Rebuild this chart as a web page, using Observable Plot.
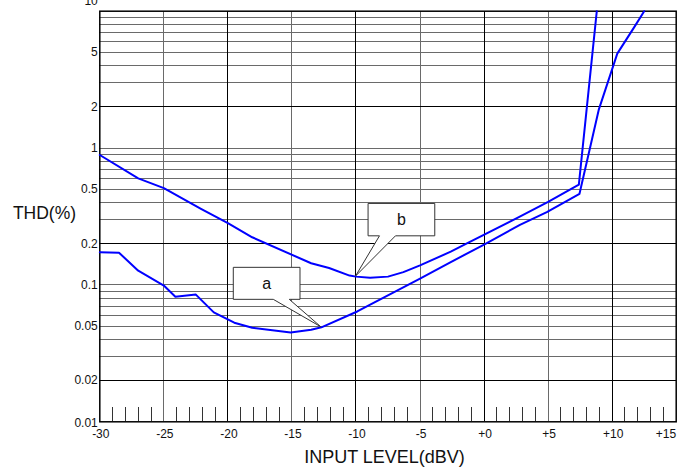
<!DOCTYPE html>
<html>
<head>
<meta charset="utf-8">
<script src="https://cdn.jsdelivr.net/npm/d3@7"></script>
<script src="https://cdn.jsdelivr.net/npm/@observablehq/plot@0.6"></script>
<style>
  html, body { margin: 0; padding: 0; background: #fff; }
  svg { font-family: "Liberation Sans", Arial, sans-serif; }
</style>
</head>
<body>
<div id="chart"></div>
<script>
// Curve b (upper)
const bLevel = [-30, -27, -25, -22.1, -20, -18.1, -13.5, -12.1, -10.5, -10, -8.9, -7.5, -6.3, -5, -2.6, -1.3, 2.6, 5, 7.4, 8.8];
const bTHD   = [0.89, 0.60, 0.51, 0.36, 0.283, 0.223, 0.144, 0.133, 0.117, 0.115, 0.113, 0.115, 0.124, 0.139, 0.175, 0.202, 0.309, 0.405, 0.54, 10];
// Curve a (lower)
const aLevel = [-30, -28.5, -27, -25, -24.1, -22.5, -21.1, -19.5, -18.1, -15.1, -13.5, -12.7, -9.9, -5, -2.6, 0, 2.8, 4.9, 7.45, 8.95, 10.4, 11.8, 12.5];
const aTHD   = [0.173, 0.172, 0.127, 0.099, 0.082, 0.085, 0.063, 0.053, 0.0486, 0.045, 0.047, 0.049, 0.064, 0.111, 0.147, 0.197, 0.275, 0.34, 0.463, 1.9, 4.9, 7.85, 10];

// Tick labels
const xTickValues = [-30, -25, -20, -15, -10, -5, 0, 5, 10];
const xTickLabels = ["-30", "-25", "-20", "-15", "-10", "-5", "+0", "+5", "+10"];
const xLastTick = [15];
const xLastLabel = ["+15"];
const yTickValues = [5, 2, 1, 0.5, 0.2, 0.1, 0.05, 0.02];
const yTickLabels = ["5", "2", "1", "0.5", "0.2", "0.1", "0.05", "0.02"];
const yTopTick = [10], yTopLabel = ["10"];
const yBottomTick = [0.01], yBottomLabel = ["0.01"];

// Grid
const hGridGray = [0.03, 0.04, 0.05, 0.06, 0.07, 0.08, 0.09, 0.1, 0.3, 0.4, 0.5, 0.6, 0.7, 0.8, 0.9, 1, 3, 4, 5, 6, 7, 8, 9];
const hGridBlack = [0.02, 0.2, 2];
const vGridGray = [-25, -15, -5, 5];
const vGridBlack = [-20, -10, 0, 10];
const minorTicks = [-29,-28,-27,-26,-24,-23,-22,-21,-19,-18,-17,-16,-14,-13,-12,-11,-9,-8,-7,-6,-4,-3,-2,-1,1,2,3,4,6,7,8,9,11,12,13,14];

// Callouts
const calloutLabels = ["a", "b"];
const calloutLevel = [-12.7, -10];
const calloutTHD = [0.049, 0.115];

const curveA = aLevel.map((x, i) => ({x, y: aTHD[i]}));
const curveB = bLevel.map((x, i) => ({x, y: bTHD[i]}));

const W = 686, H = 470;
const mL = 99.3, mR = 10.3, mT = 10.7, mB = 48.7;
const frameH = H - mT - mB;

// box geometry relative to the tip (pixels)
const boxGeom = {
  a: {x0: -87.6, x1: -20.9, y0: -59.5, y1: -27.5, t0: -47.6, t1: -31.6},
  b: {x0: 12.6, x1: 79.3, y0: -72.7, y1: -40.3, t0: 24, t1: 40}
};

function callouts(index, scales) {
  const g = d3.create("svg:g");
  calloutLabels.forEach((lab, i) => {
    const px = scales.x(calloutLevel[i]);
    const py = scales.y(calloutTHD[i]);
    const b = boxGeom[lab];
    const pts = [
      [px + b.x0, py + b.y0], [px + b.x1, py + b.y0], [px + b.x1, py + b.y1],
      [px + b.t1, py + b.y1], [px, py], [px + b.t0, py + b.y1], [px + b.x0, py + b.y1]
    ];
    g.append("path")
      .attr("d", "M" + pts.map(p => p.join(",")).join("L") + "Z")
      .attr("fill", "white")
      .attr("stroke", "#333")
      .attr("stroke-width", 1);
    g.append("text")
      .attr("x", px + (b.x0 + b.x1) / 2)
      .attr("y", py + (b.y0 + b.y1) / 2)
      .attr("dy", "0.35em")
      .attr("text-anchor", "middle")
      .attr("font-size", 16)
      .attr("fill", "#111")
      .text(lab);
  });
  return g.node();
}

const crisp = {shapeRendering: "crispEdges"};

const chart = Plot.plot({
  width: W,
  height: H,
  marginLeft: mL,
  marginRight: mR,
  marginTop: mT,
  marginBottom: mB,
  style: {fontFamily: "'Liberation Sans', Arial, sans-serif", background: "white", overflow: "visible"},
  x: {type: "linear", domain: [-30, 15], axis: null},
  y: {type: "log", domain: [0.01, 10], axis: null},
  marks: [
    Plot.ruleY(hGridGray, {y: d => d, stroke: "#6a6a6a", strokeWidth: 1, ...crisp}),
    Plot.ruleX(vGridGray, {x: d => d, stroke: "#6a6a6a", strokeWidth: 1, ...crisp}),
    Plot.ruleY(hGridBlack, {y: d => d, stroke: "#000", strokeWidth: 1, ...crisp}),
    Plot.ruleX(vGridBlack, {x: d => d, stroke: "#000", strokeWidth: 1, ...crisp}),
    Plot.tickX(minorTicks, {x: d => d, insetTop: frameH - 14.6, stroke: "#333", strokeWidth: 1, ...crisp}),
    Plot.frame({stroke: "#000", strokeWidth: 1.5}),
    Plot.line(curveB, {x: "x", y: "y", stroke: "#0000ff", strokeWidth: 2}),
    Plot.line(curveA, {x: "x", y: "y", stroke: "#0000ff", strokeWidth: 2}),
    callouts,
    // y tick labels
    Plot.text(yTickValues, {y: d => d, text: (d, i) => yTickLabels[i], frameAnchor: "left", dx: -2, textAnchor: "end", lineAnchor: "middle", fontSize: 12, fill: "#111"}),
    Plot.text(yTopTick, {y: d => d, text: (d, i) => yTopLabel[i], frameAnchor: "left", dx: -2, dy: -10, textAnchor: "end", lineAnchor: "middle", fontSize: 12, fill: "#111"}),
    Plot.text(yBottomTick, {y: d => d, text: (d, i) => yBottomLabel[i], frameAnchor: "left", dx: -2, dy: 1.5, textAnchor: "end", lineAnchor: "middle", fontSize: 12, fill: "#111"}),
    // x tick labels
    Plot.text(xTickValues, {x: d => d, text: (d, i) => xTickLabels[i], frameAnchor: "bottom", dy: 12.5, dx: 1, textAnchor: "middle", lineAnchor: "middle", fontSize: 12, fill: "#111"}),
    Plot.text(xLastTick, {x: d => d, text: (d, i) => xLastLabel[i], frameAnchor: "bottom", dy: 12.5, dx: 0, textAnchor: "end", lineAnchor: "middle", fontSize: 12, fill: "#111"}),
    // axis titles
    Plot.text(["INPUT LEVEL(dBV)"], {frameAnchor: "bottom", dy: 35.5, dx: -3.5, textAnchor: "middle", lineAnchor: "middle", fontSize: 18, fill: "#111"}),
    Plot.text(["THD(%)"], {frameAnchor: "top-left", dx: 44 - mL, dy: 213 - mT, textAnchor: "middle", lineAnchor: "middle", fontSize: 17.5, fill: "#111"})
  ]
});

document.getElementById("chart").appendChild(chart);
</script>
</body>
</html>
